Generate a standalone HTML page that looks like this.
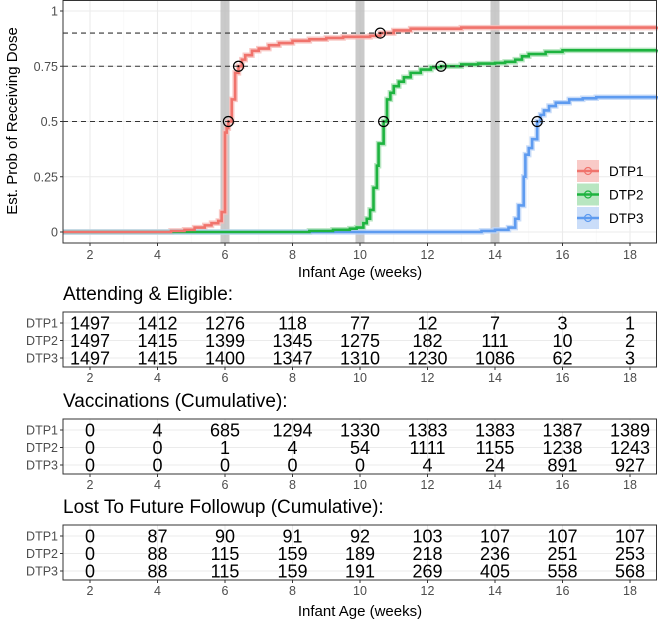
<!DOCTYPE html>
<html><head><meta charset="utf-8">
<style>
body{margin:0;background:#fff;}
svg{display:block;font-family:"Liberation Sans",sans-serif;}
</style></head>
<body>
<svg id="c" width="658" height="621" xmlns="http://www.w3.org/2000/svg"></svg>
<script>
const weeks=[2,4,6,8,10,12,14,16,18];
const yTicks=[0,0.25,0.5,0.75,1];
const yTickLabels=["0","0.25","0.5","0.75","1"];
const seriesNames=["DTP1","DTP2","DTP3"];
const colors=["#F0736C","#1DB33F","#5E9BF0"];
const fills=["#F8BDB9","#A6E0B2","#BDD5F8"];
const dtp1X=[1.2,4,4.4,4.8,5.1,5.4,5.6,5.8,5.9,6.0,6.05,6.1,6.2,6.3,6.4,6.5,6.6,6.8,7,7.3,7.6,8,8.5,9,9.5,10.3,10.6,11,11.5,13,18.8];
const dtp1Y=[0,0,0.005,0.01,0.02,0.03,0.04,0.05,0.09,0.45,0.47,0.5,0.6,0.72,0.75,0.78,0.8,0.82,0.83,0.845,0.855,0.865,0.872,0.878,0.883,0.888,0.9,0.912,0.92,0.925,0.93];
const dtp2X=[1.2,7.5,8.5,9.2,9.7,9.9,10.1,10.2,10.3,10.4,10.5,10.55,10.7,10.8,10.9,11,11.15,11.3,11.5,11.8,12.1,12.4,13,13.5,14,14.3,14.6,14.8,15,15.5,16,18.8];
const dtp2Y=[0,0,0.005,0.01,0.015,0.02,0.04,0.06,0.1,0.2,0.3,0.4,0.5,0.6,0.63,0.66,0.68,0.7,0.72,0.735,0.745,0.75,0.758,0.762,0.765,0.77,0.78,0.795,0.805,0.815,0.822,0.825];
const dtp3X=[1.2,13,13.6,14,14.4,14.6,14.7,14.85,14.9,15.0,15.1,15.25,15.35,15.45,15.6,15.8,16.2,16.6,17,18.8];
const dtp3Y=[0,0,0.005,0.01,0.02,0.06,0.12,0.25,0.35,0.38,0.42,0.5,0.53,0.55,0.57,0.585,0.6,0.605,0.61,0.615];
const markerX=[6.1,6.4,10.6,10.7,12.4,15.25];
const markerY=[0.5,0.75,0.9,0.5,0.75,0.5];
const refLines=[0.5,0.75,0.9];
const bands=[6,10,14];
const tableTitles=["Attending & Eligible:","Vaccinations (Cumulative):","Lost To Future Followup (Cumulative):"];
const attending=[[1497,1412,1276,118,77,12,7,3,1],[1497,1415,1399,1345,1275,182,111,10,2],[1497,1415,1400,1347,1310,1230,1086,62,3]];
const vaccinated=[[0,4,685,1294,1330,1383,1383,1387,1389],[0,0,1,4,54,1111,1155,1238,1243],[0,0,0,0,0,4,24,891,927]];
const lost=[[0,87,90,91,92,103,107,107,107],[0,88,115,159,189,218,236,251,253],[0,88,115,159,191,269,405,558,568]];

const svg=document.getElementById('c');
const NS="http://www.w3.org/2000/svg";
const L=63,R=657,T=0,B=243;
const X=w=>90+(w-2)*33.75;
const Y=p=>232-p*221;
function mk(tag,attrs,parent){const e=document.createElementNS(NS,tag);for(const k in attrs)e.setAttribute(k,attrs[k]);(parent||svg).appendChild(e);return e;}
function txt(s,attrs,parent){const e=mk('text',attrs,parent);e.textContent=s;return e;}

let g=mk('g',{});


mk('rect',{x:L,y:T,width:R-L,height:B-T,fill:'#fff'},g);
weeks.forEach(w=>{if(w<18)mk('line',{x1:X(w+1),x2:X(w+1),y1:T,y2:B,stroke:'#f5f5f5','stroke-width':0.6},g);});
weeks.forEach(w=>{const l=mk('line',{x1:X(w),x2:X(w),y1:T,y2:B,stroke:'#ebebeb','stroke-width':1.1},g);});
yTicks.forEach(p=>{const l=mk('line',{x1:L,x2:R,y1:Y(p),y2:Y(p),stroke:'#ebebeb','stroke-width':1.1},g);});
bands.forEach(b=>{const r=mk('rect',{x:X(b)-4.5,y:T,width:9,height:B-T,fill:'#bdbdbd',opacity:0.8},g);});
function stepPath(xs,ys,off){let d='M'+X(xs[0])+','+(Y(ys[0])+off);for(let i=1;i<xs.length;i++){d+='H'+X(xs[i])+'V'+(Y(ys[i])+off);}return d;}
const SX=[dtp1X,dtp2X,dtp3X],SY=[dtp1Y,dtp2Y,dtp3Y];
[0,1,2].forEach(i=>{
 const rb=mk('path',{d:stepPath(SX[i],SY[i],0),fill:'none',stroke:fills[i],'stroke-width':5.5,opacity:0.8},g);
 
});
[2,1,0].forEach(i=>{
 const p=mk('path',{d:stepPath(SX[i],SY[i],0),fill:'none',stroke:colors[i],'stroke-width':2.6},g);
 
});
refLines.forEach(p=>{const l=mk('line',{x1:L,x2:R,y1:Y(p),y2:Y(p),stroke:'#333','stroke-width':1.1,'stroke-dasharray':'5,4'},g);});
markerX.forEach((m,i)=>{const c=mk('circle',{cx:X(m),cy:Y(markerY[i]),r:5,fill:'none',stroke:'#000','stroke-width':1.2},g);mk('circle',{cx:X(m),cy:Y(markerY[i]),r:1,fill:'#000'},g);});
mk('rect',{x:L,y:T+0.5,width:R-L-0.5,height:B-T-0.5,fill:'none',stroke:'#333','stroke-width':1},g);
yTicks.forEach((p,i)=>{mk('line',{x1:L-3,x2:L,y1:Y(p),y2:Y(p),stroke:'#333'},g);const t=txt(yTickLabels[i],{x:L-5,y:Y(p)+4.5,'font-size':12.5,fill:'#4d4d4d','text-anchor':'end'},g);});
weeks.forEach(w=>{mk('line',{x1:X(w),x2:X(w),y1:B,y2:B+3,stroke:'#333'},g);const t=txt(String(w),{x:X(w),y:B+16,'font-size':12.5,fill:'#4d4d4d','text-anchor':'middle'},g);});
let t=txt('Infant Age (weeks)',{x:360,y:277,'font-size':15,fill:'#000','text-anchor':'middle'},g);
t=txt('Est. Prob of Receiving Dose',{x:0,y:0,'font-size':15,fill:'#000','text-anchor':'middle',transform:'translate(17,121) rotate(-90)'},g);
const lg=mk('g',{},g);
[0,1,2].forEach(i=>{const cy=171+i*23.5;const e=mk('g',{},lg);
 mk('rect',{x:577,y:cy-11,width:22,height:22,fill:fills[i],opacity:0.8},e);
 mk('line',{x1:577,x2:599,y1:cy,y2:cy,stroke:colors[i],'stroke-width':2.4},e);
 mk('circle',{cx:588,cy:cy,r:3.5,fill:'none',stroke:colors[i],'stroke-width':1.2},e);
 txt(seriesNames[i],{x:609,y:cy+5,'font-size':13.5,fill:'#000'},e);});

const tables=[attending,vaccinated,lost];
const tops=[312,419,525];
tables.forEach((tb,k)=>{
 const top=tops[k],bot=top+55;
 const tg=mk('g',{});
 const tt=txt(tableTitles[k],{x:L,y:top-12,'font-size':19,fill:'#000'},tg);
 weeks.forEach(w=>mk('line',{x1:X(w),x2:X(w),y1:top,y2:bot,stroke:'#ebebeb'},tg));
 [0,1,2].forEach(r=>{const ry=top+11+r*17.5;mk('line',{x1:L,x2:R,y1:ry,y2:ry,stroke:'#ebebeb'},tg);
  mk('line',{x1:L-3,x2:L,y1:ry,y2:ry,stroke:'#333'},tg);
  const rl=txt(seriesNames[r],{x:L-5,y:ry+4.5,'font-size':12.5,fill:'#4d4d4d','text-anchor':'end'},tg);
  tb[r].forEach((v,c)=>{const cell=txt(String(v),{x:X(weeks[c]),y:ry+6.5,'font-size':18,fill:'#000','text-anchor':'middle'},tg);});
 });
 mk('rect',{x:L,y:top,width:R-L-0.5,height:bot-top,fill:'none',stroke:'#333','stroke-width':1},tg);
 weeks.forEach(w=>{mk('line',{x1:X(w),x2:X(w),y1:bot,y2:bot+3,stroke:'#333'},tg);txt(String(w),{x:X(w),y:bot+15,'font-size':12.5,fill:'#4d4d4d','text-anchor':'middle'},tg);});
});
t=txt('Infant Age (weeks)',{x:360,y:616,'font-size':15,fill:'#000','text-anchor':'middle'});
</script>
</body></html>
